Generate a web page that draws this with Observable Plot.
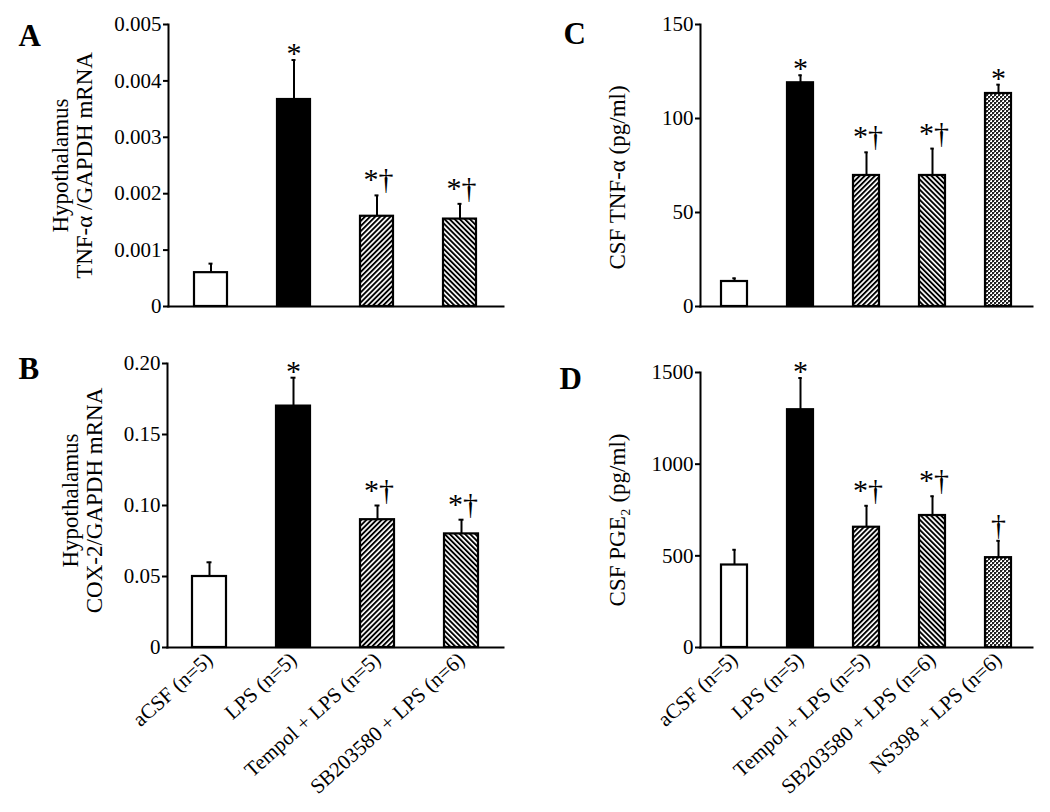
<!DOCTYPE html>
<html>
<head>
<meta charset="utf-8">
<script src="https://cdn.jsdelivr.net/npm/d3@7"></script>
<script src="https://cdn.jsdelivr.net/npm/@observablehq/plot@0.6"></script>
<style>
  body { margin: 0; background: #fff; }
  #chart { position: relative; width: 1050px; height: 812px; background: #fff; overflow: hidden; }
  #chart > div { position: absolute; }
</style>
</head>
<body>
<svg width="0" height="0" style="position:absolute">
  <defs>
    <pattern id="hatchR" patternUnits="userSpaceOnUse" width="3.6" height="10" patternTransform="rotate(45)">
      <rect x="0" y="0" width="3.6" height="10" fill="#fff"></rect>
      <rect x="0" y="0" width="1.9" height="10" fill="#000"></rect>
    </pattern>
    <pattern id="hatchL" patternUnits="userSpaceOnUse" width="3.6" height="10" patternTransform="rotate(-45)">
      <rect x="0" y="0" width="3.6" height="10" fill="#fff"></rect>
      <rect x="0" y="0" width="1.9" height="10" fill="#000"></rect>
    </pattern>
    <pattern id="checker" patternUnits="userSpaceOnUse" width="4" height="4">
      <rect x="0" y="0" width="4" height="4" fill="#fff"></rect>
      <rect x="0" y="0" width="2" height="2" fill="#222"></rect>
      <rect x="2" y="2" width="2" height="2" fill="#222"></rect>
      <rect x="2" y="0" width="1" height="1" fill="#888"></rect>
      <rect x="0" y="2" width="1" height="1" fill="#888"></rect>
    </pattern>
  </defs>
</svg>
<div id="chart"></div>
<script>
// ---- data ----
const groups4 = ["aCSF (n=5)", "LPS (n=5)", "Tempol + LPS (n=5)", "SB203580 + LPS (n=6)"];
const groups5 = ["aCSF (n=5)", "LPS (n=5)", "Tempol + LPS (n=5)", "SB203580 + LPS (n=6)", "NS398 + LPS (n=6)"];
const barFills = ["white", "black", "url(#hatchR)", "url(#hatchL)", "url(#checker)"];

// Panel A: Hypothalamus TNF-α/GAPDH mRNA
const meanA = [0.0006, 0.00367, 0.0016, 0.00155];
const errA  = [0.00076, 0.00437, 0.00197, 0.00182];
const sigA  = ["", "*", "*†", "*†"];
const ticksA = [0, 0.001, 0.002, 0.003, 0.004, 0.005];
const tickLabelsA = ["0", "0.001", "0.002", "0.003", "0.004", "0.005"];

// Panel B: Hypothalamus COX-2/GAPDH mRNA
const meanB = [0.050, 0.170, 0.090, 0.080];
const errB  = [0.060, 0.190, 0.100, 0.090];
const sigB  = ["", "*", "*†", "*†"];
const ticksB = [0, 0.05, 0.10, 0.15, 0.20];
const tickLabelsB = ["0", "0.05", "0.10", "0.15", "0.20"];

// Panel C: CSF TNF-α (pg/ml)
const meanC = [13.3, 119, 69.7, 69.7, 113.3];
const errC  = [15, 123, 82, 84, 118];
const sigC  = ["", "*", "*†", "*†", "*"];
const ticksC = [0, 50, 100, 150];
const tickLabelsC = ["0", "50", "100", "150"];

// Panel D: CSF PGE2 (pg/ml)
const meanD = [450, 1297, 656, 720, 490];
const errD  = [533, 1470, 773, 825, 582];
const sigD  = ["", "*", "*†", "*†", "†"];
const ticksD = [0, 500, 1000, 1500];
const tickLabelsD = ["0", "500", "1000", "1500"];

// ---- drawing ----
function panel(cfg) {
  const data = cfg.groups.map((g, i) => ({group: g, value: cfg.mean[i], err: cfg.err[i], sig: cfg.sig[i], fill: barFills[i]}));
  const marks = [
    Plot.barY(data, {x: "group", y: "value", fill: "fill", stroke: "black", strokeWidth: 2.2}),
    Plot.ruleX(data, {x: "group", y1: "value", y2: "err", stroke: "black", strokeWidth: 2}),
    Plot.tickY(data, {x: "group", y: "err", stroke: "black", strokeWidth: 2, insetLeft: cfg.capInset, insetRight: cfg.capInset}),
    Plot.text(data.filter(d => d.sig === "*"), {x: "group", y: "err", text: "sig", lineAnchor: "bottom", dy: 3, fontSize: 30}),
    Plot.text(data.filter(d => d.sig === "*†"), {x: "group", y: "err", text: "sig", lineAnchor: "bottom", dx: 1.5, dy: -6, fontSize: 30}),
    Plot.text(data.filter(d => d.sig === "†"), {x: "group", y: "err", text: "sig", lineAnchor: "bottom", dy: -6, fontSize: 30}),
    Plot.axisY({ticks: cfg.ticks, tickFormat: d => cfg.tickLabels[cfg.ticks.indexOf(d)], tickSize: 5, tickPadding: 2, strokeWidth: 2, fontSize: 21}),
    Plot.frame({anchor: "left", stroke: "black", strokeWidth: 2}),
    Plot.frame({anchor: "bottom", stroke: "black", strokeWidth: 2}),
    Plot.text([cfg.ylabel], {frameAnchor: "left", text: d => d, rotate: -90, textAnchor: "middle", lineAnchor: "middle", dx: cfg.ylabelDx, dy: cfg.ylabelDy, fontSize: 23, lineHeight: 1.05}),
    Plot.text([cfg.letter], {frameAnchor: "top-left", text: d => d, dx: cfg.letterDx, dy: cfg.letterDy, fontSize: 31, fontWeight: "bold", textAnchor: "start", lineAnchor: "bottom"})
  ];
  if (cfg.showX) marks.push(Plot.axisX({tickRotate: -42, tickSize: 0, tickPadding: 9, fontSize: 21}));
  const svg = Plot.plot({
    width: cfg.width, height: cfg.height,
    marginLeft: cfg.mL, marginRight: cfg.mR, marginTop: cfg.mT, marginBottom: cfg.mB,
    style: {fontFamily: "'Liberation Serif', 'Times New Roman', serif", fontSize: "21px", background: "transparent", overflow: "visible", color: "black"},
    x: {domain: cfg.groups, paddingInner: 0.6, paddingOuter: 0.3, label: null, axis: cfg.showX ? undefined : null},
    y: {domain: [0, cfg.ticks[cfg.ticks.length - 1]], label: null},
    color: {type: "identity"},
    marks
  });
  const wrap = document.createElement("div");
  wrap.style.left = cfg.left + "px";
  wrap.style.top = cfg.top + "px";
  wrap.appendChild(svg);
  document.getElementById("chart").appendChild(wrap);
}

panel({groups: groups4, mean: meanA, err: errA, sig: sigA, ticks: ticksA, tickLabels: tickLabelsA,
  left: 0, top: 0, width: 520, height: 330, mL: 168, mR: 17, mT: 24, mB: 24, capInset: 14.5,
  ylabel: "Hypothalamus\nTNF-α /GAPDH mRNA", ylabelDx: -96, ylabelDy: 0,
  letter: "A", letterDx: -150, letterDy: 21, showX: false});

panel({groups: groups4, mean: meanB, err: errB, sig: sigB, ticks: ticksB, tickLabels: tickLabelsB,
  left: 0, top: 330, width: 520, height: 482, mL: 167, mR: 17, mT: 33, mB: 165, capInset: 14.5,
  ylabel: "Hypothalamus\nCOX-2/GAPDH mRNA", ylabelDx: -85, ylabelDy: -5,
  letter: "B", letterDx: -149, letterDy: 15, showX: true});

panel({groups: groups5, mean: meanC, err: errC, sig: sigC, ticks: ticksC, tickLabels: tickLabelsC,
  left: 520, top: 0, width: 530, height: 330, mL: 180, mR: 18, mT: 24, mB: 24, capInset: 11.3,
  ylabel: "CSF TNF-α (pg/ml)", ylabelDx: -83, ylabelDy: 12,
  letter: "C", letterDx: -137, letterDy: 19, showX: false});

panel({groups: groups5, mean: meanD, err: errD, sig: sigD, ticks: ticksD, tickLabels: tickLabelsD,
  left: 520, top: 330, width: 530, height: 482, mL: 180, mR: 18, mT: 42, mB: 165, capInset: 11.3,
  ylabel: "CSF PGE₂ (pg/ml)", ylabelDx: -83, ylabelDy: 10,
  letter: "D", letterDx: -141, letterDy: 16, showX: true});
</script>
</body>
</html>
